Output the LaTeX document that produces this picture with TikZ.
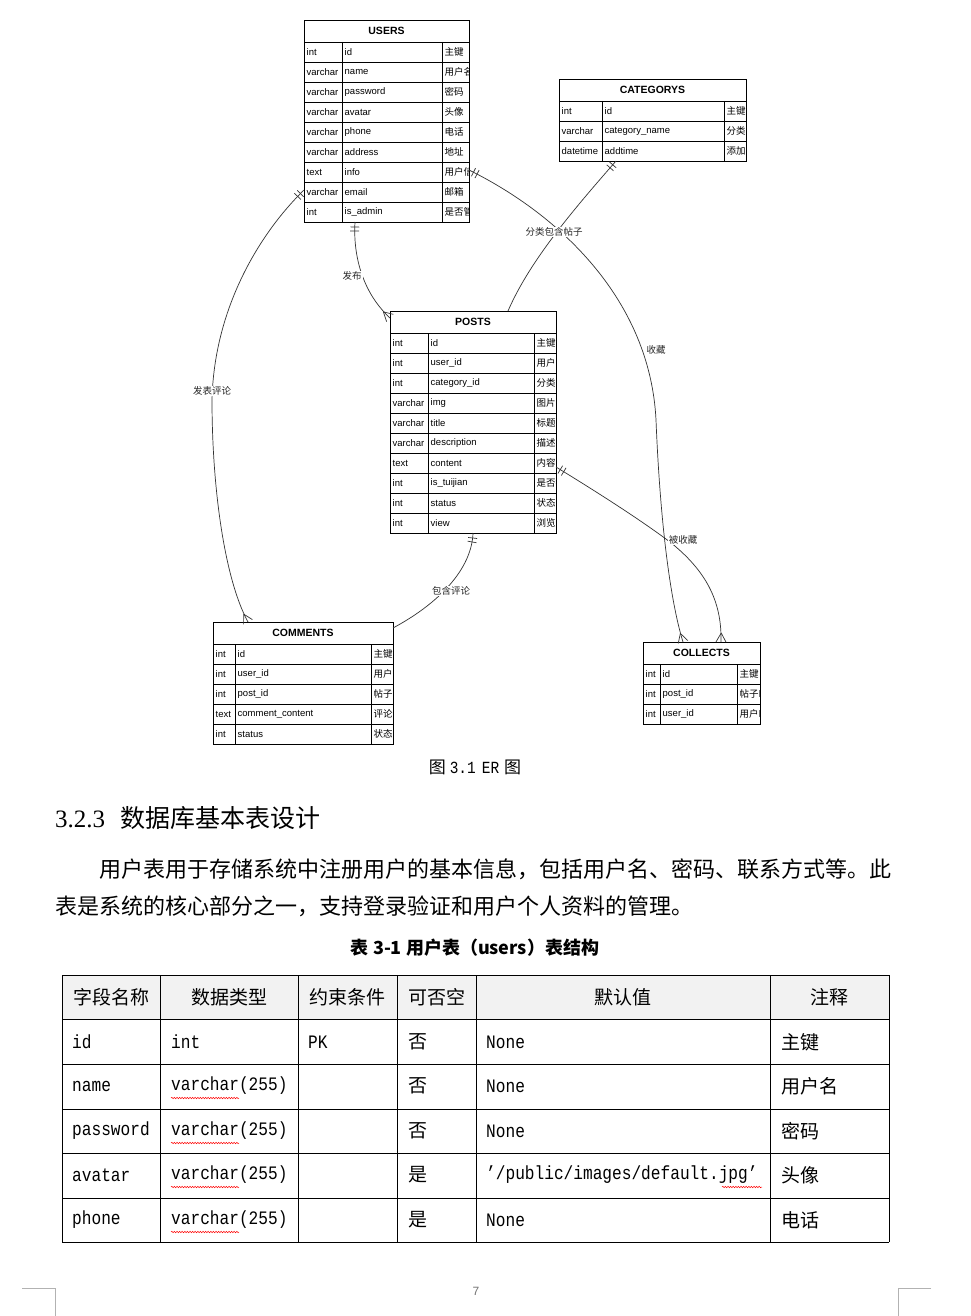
\documentclass[tikz,border=0pt]{standalone}
\usepackage{fontspec}
\setmainfont{Liberation Serif}
\newfontfamily\cjk{Noto Sans CJK SC}
\newfontfamily\arl{Liberation Sans}
\newfontfamily\mon[FakeStretch=0.85]{Liberation Mono}
\usetikzlibrary{decorations.markings,decorations.pathmorphing}

\newcommand\ertbl[8]{%
  \pgfmathsetmacro\ertw{#5-#2}%
  \node[ttl, minimum width=\ertw pt, minimum height=22pt, anchor=north west] (#1) at (#2,#6) {#7};%
  \foreach \ty/\fd/\cm [count=\i] in {#8} {%
    \pgfmathsetmacro\yt{#6+22+(\i-1)*20}%
    \draw[tbl] (#2,\yt) rectangle (#5,\yt+20) (#3,\yt) -- (#3,\yt+20) (#4,\yt) -- (#4,\yt+20);%
    \node[fld] (#1-t\i) at (#2+2.5,\yt+10) {\ty};%
    \node[fld] (#1-f\i) at (#3+2.5,\yt+10) {\fd};%
    \begin{scope}\clip (#4,\yt) rectangle (#5,\yt+20);%
      \node[cmt] (#1-c\i) at (#4+2.5,\yt+10) {\cm};%
    \end{scope}%
    \coordinate (#1-l\i) at (#2,\yt+10);%
    \coordinate (#1-r\i) at (#5,\yt+10);%
    \coordinate (#1-b\i) at (#2,\yt+20);%
  }%
}

\begin{document}
\begin{tikzpicture}[x=1pt,y=-1pt,
  tbl/.style={draw=black, line width=0.75pt},
  ttl/.style={draw=black, line width=0.75pt, inner sep=0pt, outer sep=0pt, font=\arl\bfseries\fontsize{10.5}{12}\selectfont},
  fld/.style={inner sep=0pt, anchor=west, font=\arl\fontsize{9.5}{11}\selectfont},
  cmt/.style={inner sep=0pt, anchor=west, font=\cjk\fontsize{9.5}{11}\selectfont},
  lbl/.style={fill=white, inner sep=1pt, font=\cjk\fontsize{9.5}{11}\selectfont, text=black!85},
  rel/.style={draw=black!80, line width=0.7pt, postaction={decorate}, decoration={markings,
    mark=at position 5pt with {\draw[line width=0.7pt] (0,-4.5pt)--(0,4.5pt);},
    mark=at position 9pt with {\draw[line width=0.7pt] (0,-4.5pt)--(0,4.5pt);},
    mark=at position 1 with {\draw[line width=0.7pt] (-9pt,0)--(0,5pt) (-9pt,0)--(0,-5pt);}}},
  tline/.style={draw=black, line width=0.8pt},
  hcell/.style={inner sep=0pt, font=\cjk\fontsize{19}{22}\selectfont},
  ccell/.style={inner sep=0pt, anchor=west, font=\cjk\fontsize{19}{22}\selectfont},
  lcell/.style={inner sep=0pt, anchor=west, font=\mon\fontsize{19}{22}\selectfont},
  wavy/.style={draw=red, line width=0.5pt, decorate, decoration={snake, amplitude=0.7pt, segment length=2.6pt}},
  corner/.style={draw=black!30, line width=0.6pt}
]
\fill[white] (0,0) rectangle (970,1316);
\useasboundingbox (0,0) rectangle (970,1316);

% ---------- ER tables ----------
\ertbl{U}{304}{342}{442}{469}{20}{USERS}{int/id/主键, varchar/name/用户名, varchar/password/密码, varchar/avatar/头像, varchar/phone/电话, varchar/address/地址, text/info/用户信息, varchar/email/邮箱, int/is\_admin/是否管理员}
\ertbl{C}{559}{602}{724}{746}{79}{CATEGORYS}{int/id/主键, varchar/category\_name/分类名称, datetime/addtime/添加时间}
\ertbl{P}{390}{428}{534}{556}{311}{POSTS}{int/id/主键, int/user\_id/用户ID, int/category\_id/分类ID, varchar/img/图片, varchar/title/标题, varchar/description/描述, text/content/内容, int/is\_tuijian/是否推荐, int/status/状态, int/view/浏览量}
\ertbl{CM}{213}{235}{371}{393}{622}{COMMENTS}{int/id/主键, int/user\_id/用户ID, int/post\_id/帖子ID, text/comment\_content/评论内容, int/status/状态}
\ertbl{CL}{643}{660}{737}{760}{642}{COLLECTS}{int/id/主键, int/post\_id/帖子ID, int/user\_id/用户ID}

% ---------- relations ----------
\draw[rel] ([xshift=51pt]U-b9) .. controls (353,255) and (362,292) .. ([yshift=4pt]P.west);
\draw[rel] ([yshift=2pt]U-l8) .. controls (258,235) and (214,310) .. (212,400) .. controls (212,490) and (225,580) .. ([xshift=35pt]CM.north west);
\draw[rel] ([xshift=57pt]C-b3) .. controls (575,208) and (530,260) .. ([xshift=118pt]P.north west);
\draw[rel] ([yshift=2pt]U-r7) .. controls (560,215) and (650,300) .. (656,420) .. controls (660,520) and (670,600) .. ([xshift=40pt]CL.north west);
\draw[rel] ([yshift=-4pt]P-r7) .. controls (615,503) and (650,527) .. (670,542) .. controls (705,570) and (722,600) .. ([xshift=78pt]CL.north west);
\draw[rel] ([xshift=83pt]P-b10) .. controls (472,565) and (445,600) .. ([yshift=-6pt]CM.north east);

\node[lbl] (l1) at (352,276) {发布};
\node[lbl] (l2) at (212,391) {发表评论};
\node[lbl] (l3) at (554,232) {分类包含帖子};
\node[lbl] (l4) at (656,350) {收藏};
\node[lbl] (l5) at (683,540) {被收藏};
\node[lbl] (l6) at (451,591) {包含评论};

% ---------- document text ----------
\node[font=\fontsize{17}{20}\selectfont] (cap) at (475,767) {{\cjk 图}\hspace{4pt}{\mon 3.1}\hspace{6pt}{\mon ER}\hspace{5pt}{\cjk 图}};
\node[anchor=west, inner sep=0pt, font=\fontsize{25}{30}\selectfont] (head) at (55,818) {3.2.3\hspace{15pt}{\cjk 数据库基本表设计}};
\node[anchor=west, inner sep=0pt, font=\cjk\fontsize{22}{26}\selectfont] (p1) at (99,869) {用户表用于存储系统中注册用户的基本信息，包括用户名、密码、联系方式等。此};
\node[anchor=west, inner sep=0pt, font=\cjk\fontsize{22}{26}\selectfont] (p2) at (55,906) {表是系统的核心部分之一，支持登录验证和用户个人资料的管理。};
\node[inner sep=0pt, font=\cjk\bfseries\fontsize{18}{22}\selectfont] (tcap) at (475,948) {表 3-1 用户表（users）表结构};

% ---------- table ----------
\fill[black!5] (62,975) rectangle (889,1019);
\foreach \y in {975,1019,1064,1109,1153,1198,1242} \draw[tline] (62,\y) -- (889,\y);
\foreach \x in {62,160,298,397,476,770,889} \draw[tline] (\x,975) -- (\x,1242);

\node[hcell] (h1) at (111,997) {字段名称};
\node[hcell] (h2) at (229,997) {数据类型};
\node[hcell] (h3) at (347.5,997) {约束条件};
\node[hcell] (h4) at (436.5,997) {可否空};
\node[hcell] (h5) at (623,997) {默认值};
\node[hcell] (h6) at (829.5,997) {注释};

\node[lcell] (a1) at (72,1042) {id};
\node[lcell] (b1) at (171,1042) {int};
\node[lcell] (c1) at (308,1042) {PK};
\node[ccell] (d1) at (408,1042) {否};
\node[lcell] (e1) at (486,1042) {None};
\node[ccell] (f1) at (781,1042) {主键};

\node[lcell] (a2) at (72,1086) {name};
\node[lcell] (b2) at (171,1086) {varchar(255)};
\node[ccell] (d2) at (408,1086) {否};
\node[lcell] (e2) at (486,1086) {None};
\node[ccell] (f2) at (781,1086) {用户名};

\node[lcell] (a3) at (72,1131) {password};
\node[lcell] (b3) at (171,1131) {varchar(255)};
\node[ccell] (d3) at (408,1131) {否};
\node[lcell] (e3) at (486,1131) {None};
\node[ccell] (f3) at (781,1131) {密码};

\node[lcell] (a4) at (72,1175) {avatar};
\node[lcell] (b4) at (171,1175) {varchar(255)};
\node[ccell] (d4) at (408,1175) {是};
\node[lcell] (e4) at (486,1175) {’/public/images/default.jpg’};
\node[ccell] (f4) at (781,1175) {头像};

\node[lcell] (a5) at (72,1220) {phone};
\node[lcell] (b5) at (171,1220) {varchar(255)};
\node[ccell] (d5) at (408,1220) {是};
\node[lcell] (e5) at (486,1220) {None};
\node[ccell] (f5) at (781,1220) {电话};

\draw[wavy] (171,1098) -- (239,1098);
\draw[wavy] (171,1143) -- (239,1143);
\draw[wavy] (171,1187) -- (239,1187);
\draw[wavy] (171,1232) -- (239,1232);
\draw[wavy] (722,1187) -- (762,1187);

% ---------- page footer ----------
\node[text=black!55, font=\arl\fontsize{12}{14}\selectfont] (pg) at (476,1291) {7};
\draw[corner] (22,1288) -- (55,1288) -- (55,1316);
\draw[corner] (931,1288) -- (898,1288) -- (898,1316);
\end{tikzpicture}
\end{document}
